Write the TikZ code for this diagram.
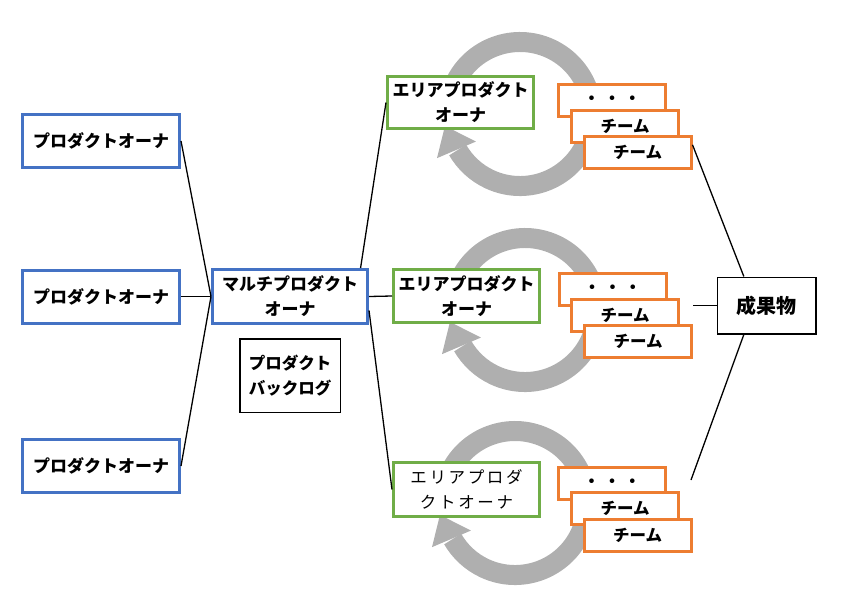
\documentclass[tikz,border=0pt]{standalone}
\usepackage{fontspec}
\setmainfont{Noto Sans CJK JP}
\newfontfamily\spacedjp[LetterSpace=16]{Noto Sans CJK JP}
\definecolor{ownerblue}{RGB}{68,114,196}
\definecolor{areagreen}{RGB}{112,173,71}
\definecolor{teamorange}{RGB}{237,125,49}
\definecolor{ringgray}{RGB}{175,175,175}

\begin{document}
\begin{tikzpicture}[x=1pt,y=1pt,
  po/.style={draw=ownerblue, line width=3pt, fill=white, minimum width=157pt, minimum height=53pt, inner sep=0pt, align=center, font=\bfseries\fontsize{17}{25}\selectfont},
  apo/.style={draw=areagreen, line width=3pt, fill=white, minimum width=146pt, minimum height=52pt, inner sep=0pt, align=center, font=\bfseries\fontsize{17}{25}\selectfont},
  team/.style={draw=teamorange, line width=3pt, fill=white, minimum width=107pt, minimum height=32pt, inner sep=0pt, font=\bfseries\fontsize{16.5}{18}\selectfont},
  plainbox/.style={draw=black, line width=1.5pt, fill=white, inner sep=0pt, align=center, font=\bfseries\fontsize{16.5}{25}\selectfont},
  loopring/.style={draw=ringgray, line width=20pt},
  link/.style={draw=black, line width=1.3pt}]
\useasboundingbox (0,0) rectangle (843,-611);

% gray cycles behind the area boxes
\draw[loopring] (520,-114) ++(155:72) arc[start angle=155, end angle=-150, radius=72];
\fill[ringgray, shift={(520,-114)}] (-152:94) -- (-148:52) -- (-171:76) -- cycle;
\draw[loopring] (525,-310) ++(155:72) arc[start angle=155, end angle=-150, radius=72];
\fill[ringgray, shift={(525,-310)}] (-152:94) -- (-148:52) -- (-171:76) -- cycle;
\draw[loopring] (515,-503) ++(155:72) arc[start angle=155, end angle=-150, radius=72];
\fill[ringgray, shift={(515,-503)}] (-152:94) -- (-148:52) -- (-171:76) -- cycle;

% owners
\node[po] (po1) at (101,-141) {プロダクトオーナ};
\node[po] (po2) at (101,-296.5) {プロダクトオーナ};
\node[po] (po3) at (101,-466) {プロダクトオーナ};
\node[po, minimum width=155pt, minimum height=54pt] (mpo) at (290,-296.5) {マルチプロダクト\\オーナ};
\node[plainbox, minimum width=100.5pt, minimum height=73.5pt] (backlog) at (290,-375.5) {プロダクト\\バックログ};

\node[apo] (apo1) at (460.5,-102.5) {エリアプロダクト\\オーナ};
\node[apo, minimum height=53pt] (apo2) at (466.5,-296) {エリアプロダクト\\オーナ};
\node[apo, minimum height=54pt, font=\spacedjp\fontsize{16.5}{25}\selectfont] (apo3) at (466.5,-489.5) {エリアプロダ\\クトオーナ};

% teams
\node[team] (t11) at (612,-100.5) {・\hspace{4pt}・\hspace{4pt}・};
\node[team] (t12) at (625,-126.5) {チーム};
\node[team] (t13) at (637.5,-152.5) {チーム};
\node[team] (t21) at (612.5,-289.5) {・\hspace{4pt}・\hspace{4pt}・};
\node[team] (t22) at (625,-315) {チーム};
\node[team] (t23) at (638,-341.5) {チーム};
\node[team] (t31) at (612,-483.5) {・\hspace{4pt}・\hspace{4pt}・};
\node[team] (t32) at (625,-508.5) {チーム};
\node[team] (t33) at (637.5,-535) {チーム};

\node[plainbox, minimum width=98.5pt, minimum height=56.5pt, font=\bfseries\fontsize{20}{24}\selectfont] (res) at (766.5,-305.5) {成果物};
\coordinate (mid2) at (693,-305.5);
\coordinate (low3) at (691,-480);

% connectors
\draw[link] (po1.east) -- (mpo.west);
\draw[link] (po2.east) -- (mpo.west);
\draw[link] (po3.east) -- (mpo.west);
\draw[link] (mpo.22) -- (apo1.west);
\draw[link] (mpo.east) -- (apo2.west);
\draw[link] (mpo.-10) -- (apo3.west);
\draw[link] (t13.8) -- (res.128);
\draw[link] (mid2) -- (res.west);
\draw[link] (low3) -- (res.-128);
\end{tikzpicture}
\end{document}
